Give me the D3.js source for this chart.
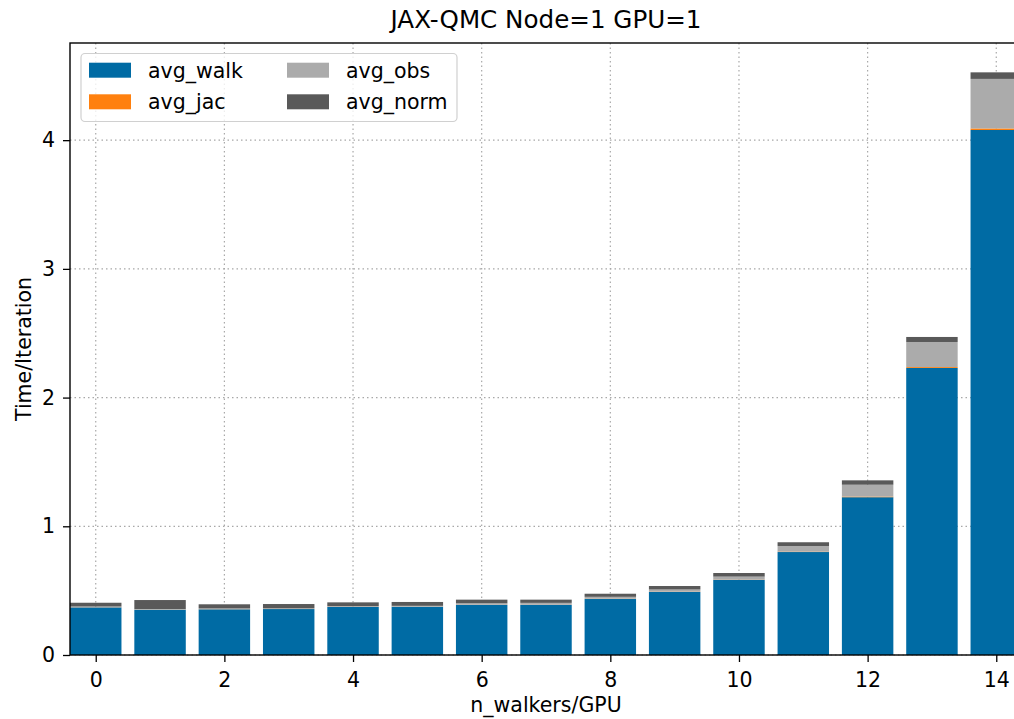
<!DOCTYPE html>
<html>
<head>
<meta charset="utf-8">
<script src="https://cdn.jsdelivr.net/npm/d3@7"></script>
<style>
  body { margin: 0; background: #fff; }
  text { font-family: "DejaVu Sans", sans-serif; fill: #000; }
</style>
</head>
<body>
<script>
// values (seconds per iteration)
var walkers = d3.range(15);
var avgWalk = [0.370, 0.352, 0.355, 0.357, 0.373, 0.375, 0.389, 0.389, 0.435, 0.490, 0.583, 0.800, 1.226, 2.230, 4.079];
var avgJac  = [0.001, 0.001, 0.001, 0.001, 0.001, 0.001, 0.001, 0.001, 0.002, 0.002, 0.002, 0.003, 0.005, 0.007, 0.012];
var avgObs  = [0.006, 0.004, 0.006, 0.005, 0.006, 0.006, 0.012, 0.015, 0.015, 0.017, 0.024, 0.044, 0.092, 0.195, 0.385];
var avgNorm = [0.029, 0.070, 0.032, 0.033, 0.029, 0.030, 0.028, 0.025, 0.024, 0.027, 0.028, 0.029, 0.034, 0.039, 0.051];
var seriesNames = ["avg_walk", "avg_jac", "avg_obs", "avg_norm"];
var xTicks = [0, 2, 4, 6, 8, 10, 12, 14];
var yTicks = [0, 1, 2, 3, 4];

var colors = {avg_walk: "#006BA4", avg_jac: "#FF800E", avg_obs: "#ABABAB", avg_norm: "#595959"};

var W = 1014, H = 719;
// plot box ("top" is taken by window.top, so use pl/pt/pr/pb)
var pl = 70, pt = 43, pr = 1022, pb = 655;
var fs = "20.5px";

var svg = d3.select("body").append("svg")
    .attr("width", W).attr("height", H);

var x = d3.scaleLinear().domain([-0.4, 14.4]).range([pl, pr]);
var y = d3.scaleLinear().domain([0, 4.755]).range([pb, pt]);

// grid (under the bars)
var grid = svg.append("g");
grid.selectAll(".gx").data(xTicks).enter().append("line")
    .attr("x1", d => x(d)).attr("x2", d => x(d))
    .attr("y1", pt).attr("y2", pb)
    .attr("stroke", "#a8a8a8").attr("stroke-width", 1.2)
    .attr("stroke-dasharray", "1.5,3");
grid.selectAll(".gy").data(yTicks).enter().append("line")
    .attr("x1", pl).attr("x2", pr)
    .attr("y1", d => y(d)).attr("y2", d => y(d))
    .attr("stroke", "#a8a8a8").attr("stroke-width", 1.2)
    .attr("stroke-dasharray", "1.5,3");

// stacked bars
var rows = walkers.map(function (w, i) {
  return {n: w, avg_walk: avgWalk[i], avg_jac: avgJac[i], avg_obs: avgObs[i], avg_norm: avgNorm[i]};
});
var stack = d3.stack().keys(seriesNames)(rows);

svg.append("g").selectAll("g").data(stack).enter().append("g")
    .attr("fill", d => colors[d.key])
  .selectAll("rect").data(d => d).enter().append("rect")
    .attr("x", d => x(d.data.n - 0.4))
    .attr("width", d => x(0.8) - x(0))
    .attr("y", d => y(d[1]))
    .attr("height", d => y(d[0]) - y(d[1]));

// axes
var xAxis = d3.axisBottom(x).tickValues(xTicks).tickSize(7).tickPadding(10).tickFormat(d3.format("d"));
var yAxis = d3.axisLeft(y).tickValues(yTicks).tickSize(7).tickPadding(8).tickFormat(d3.format("d"));

var gx = svg.append("g").attr("transform", "translate(0," + pb + ")").call(xAxis);
var gy = svg.append("g").attr("transform", "translate(" + pl + ",0)").call(yAxis);
[gx, gy].forEach(function (g) {
  g.select(".domain").remove();
  g.selectAll(".tick line").attr("stroke", "#000").attr("stroke-width", 1.3);
  g.selectAll(".tick text").style("font-size", fs).attr("fill", "#000");
});

// spines
svg.append("rect")
    .attr("x", pl).attr("y", pt)
    .attr("width", pr - pl).attr("height", pb - pt)
    .attr("fill", "none").attr("stroke", "#000").attr("stroke-width", 1.4);

// labels
svg.append("text").attr("x", (pl + pr) / 2).attr("y", 28)
    .attr("text-anchor", "middle").style("font-size", "24.6px")
    .text("JAX-QMC Node=1 GPU=1");
svg.append("text").attr("x", (pl + pr) / 2).attr("y", 712)
    .attr("text-anchor", "middle").style("font-size", fs)
    .text("n_walkers/GPU");
svg.append("text")
    .attr("transform", "translate(31," + ((pt + pb) / 2) + ") rotate(-90)")
    .attr("text-anchor", "middle").style("font-size", fs)
    .text("Time/Iteration");

// legend
var lg = svg.append("g");
lg.append("rect").attr("x", 81).attr("y", 53.5).attr("width", 376).attr("height", 68)
    .attr("rx", 4).attr("fill", "#fff").attr("fill-opacity", 0.8)
    .attr("stroke", "#d0d0d0").attr("stroke-width", 1.2);
var cols = [89, 287], rowsY = [62.7, 94.3];
seriesNames.forEach(function (name, i) {
  var cx = cols[Math.floor(i / 2)], cy = rowsY[i % 2];
  lg.append("rect").attr("x", cx).attr("y", cy).attr("width", 42).attr("height", 15)
      .attr("fill", colors[name]);
  lg.append("text").attr("x", cx + 59).attr("y", cy + 15)
      .style("font-size", fs).text(name);
});
</script>
</body>
</html>
